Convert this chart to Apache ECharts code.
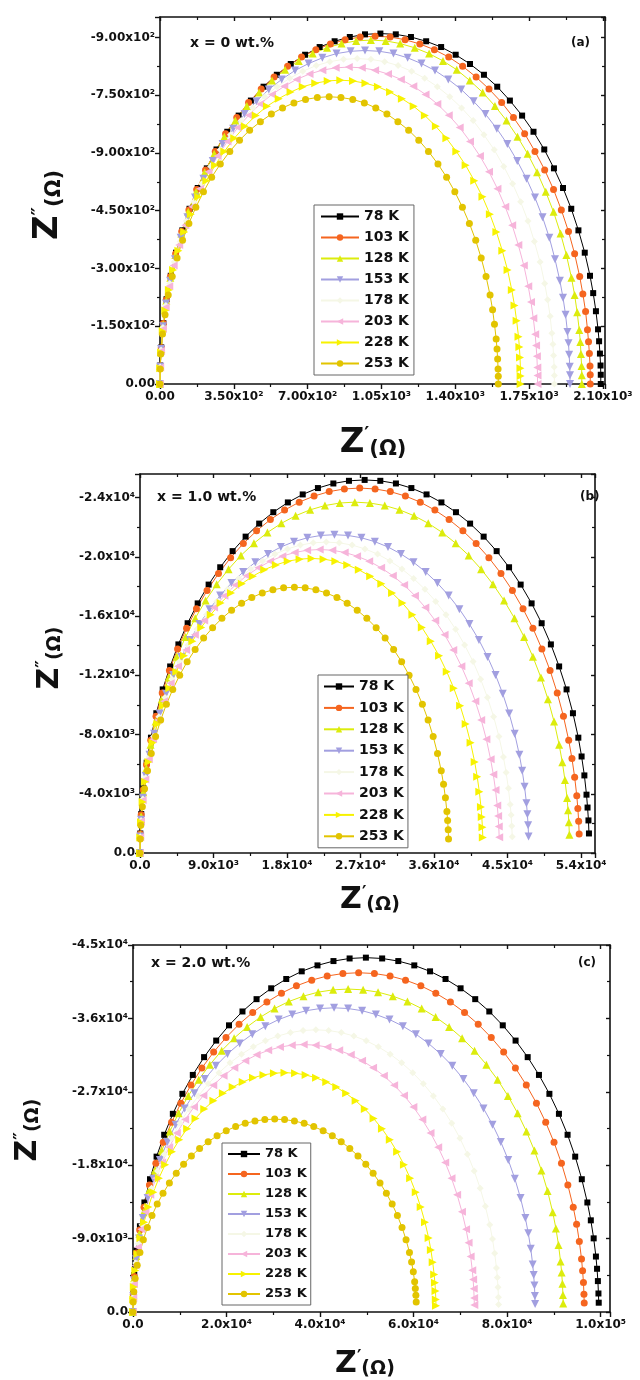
<!DOCTYPE html>
<html><head><meta charset="utf-8">
<script src="https://cdn.jsdelivr.net/npm/echarts@6/dist/echarts.min.js"></script>
<style>html,body{margin:0;padding:0;background:#fff}#c{width:640px;height:1380px}</style>
</head><body><div id="c"></div>
<script>
// Legend entries (temperature)
const temps = ['78 K','103 K','128 K','153 K','178 K','203 K','228 K','253 K'];

// Tick labels
const aXLabels = ['0.00','3.50x10²','7.00x10²','1.05x10³','1.40x10³','1.75x10³','2.10x10³'];
const aYLabels = ['0.00','-1.50x10²','-3.00x10²','-4.50x10²','-9.00x10²','-7.50x10²','-9.00x10²'];
const bXLabels = ['0.0','9.0x10³','1.8x10⁴','2.7x10⁴','3.6x10⁴','4.5x10⁴','5.4x10⁴'];
const bYLabels = ['0.0','-4.0x10³','-8.0x10³','-1.2x10⁴','-1.6x10⁴','-2.0x10⁴','-2.4x10⁴'];
const cXLabels = ['0.0','2.0x10⁴','4.0x10⁴','6.0x10⁴','8.0x10⁴','1.0x10⁵'];
const cYLabels = ['0.0','-9.0x10³','-1.8x10⁴','-2.7x10⁴','-3.6x10⁴','-4.5x10⁴'];

// Panel (a): x = 0 wt.%   points [Z' (ohm), -Z'' (ohm)]
const a78 = [[0,0],[1,48],[6,95],[16,158],[31,220],[51,281],[76,341],[106,399],[140,455],[179,509],[222,560],[268,609],[319,655],[373,697],[431,736],[491,772],[554,803],[620,831],[688,855],[757,875],[828,890],[900,901],[972,908],[1045,910],[1118,908],[1190,901],[1262,890],[1333,875],[1402,855],[1470,831],[1536,803],[1599,772],[1659,736],[1717,697],[1771,655],[1822,609],[1868,560],[1911,509],[1950,455],[1984,399],[2014,341],[2039,281],[2054,236],[2067,189],[2077,142],[2082,111],[2086,79],[2089,48],[2090,24],[2090,0]];
const a103 = [[0,0],[1,47],[6,94],[16,157],[30,218],[50,279],[74,338],[103,396],[137,452],[174,505],[216,556],[262,604],[311,650],[364,692],[420,731],[480,766],[541,797],[605,825],[671,849],[739,868],[808,883],[878,894],[949,901],[1020,903],[1091,901],[1162,894],[1232,883],[1301,868],[1369,849],[1435,825],[1499,797],[1560,766],[1620,731],[1676,692],[1729,650],[1778,604],[1824,556],[1866,505],[1903,452],[1937,396],[1966,338],[1990,279],[2005,234],[2018,188],[2027,141],[2032,110],[2036,79],[2039,47],[2040,24],[2040,0]];
const a128 = [[0,0],[1,47],[6,93],[15,155],[30,216],[49,276],[73,335],[101,391],[134,447],[171,499],[212,550],[257,598],[305,642],[357,684],[412,722],[470,757],[531,788],[593,816],[658,839],[724,858],[792,873],[861,884],[930,891],[1000,893],[1070,891],[1139,884],[1208,873],[1276,858],[1342,839],[1407,816],[1469,788],[1530,757],[1588,722],[1643,684],[1695,642],[1743,598],[1788,550],[1829,499],[1866,447],[1899,391],[1927,335],[1951,276],[1966,231],[1978,186],[1988,140],[1993,109],[1996,78],[1999,47],[2000,23],[2000,0]];
const a153 = [[0,0],[1,45],[5,91],[15,150],[29,209],[48,268],[71,324],[98,380],[130,433],[166,484],[206,533],[250,579],[297,623],[347,663],[401,701],[457,734],[516,765],[577,791],[640,814],[704,832],[770,847],[837,858],[904,864],[972,866],[1040,864],[1107,858],[1174,847],[1240,832],[1304,814],[1367,791],[1428,765],[1487,734],[1543,701],[1597,663],[1647,623],[1694,579],[1738,533],[1778,484],[1814,433],[1846,380],[1873,324],[1896,268],[1911,224],[1923,180],[1932,135],[1937,106],[1940,76],[1943,45],[1944,23],[1944,0]];
const a178 = [[0,0],[1,44],[5,88],[14,147],[28,204],[46,261],[68,317],[95,370],[125,423],[160,473],[198,520],[240,565],[285,608],[334,647],[385,684],[440,717],[496,746],[555,772],[615,794],[677,812],[741,827],[805,837],[870,843],[935,845],[1000,843],[1065,837],[1129,827],[1193,812],[1255,794],[1315,772],[1374,746],[1430,717],[1485,684],[1536,647],[1585,608],[1630,565],[1672,520],[1710,473],[1745,423],[1775,370],[1802,317],[1824,261],[1838,219],[1850,176],[1858,132],[1863,103],[1866,74],[1869,44],[1870,22],[1870,0]];
const a203 = [[0,0],[1,43],[5,86],[14,143],[27,199],[44,254],[65,308],[91,361],[120,412],[153,460],[190,507],[230,551],[273,592],[320,630],[369,666],[421,698],[475,727],[531,752],[589,773],[648,791],[709,805],[770,815],[833,821],[895,823],[957,821],[1020,815],[1081,805],[1142,791],[1201,773],[1259,752],[1315,727],[1369,698],[1421,666],[1470,630],[1517,592],[1560,551],[1600,507],[1637,460],[1670,412],[1699,361],[1725,308],[1746,254],[1759,213],[1770,171],[1779,129],[1783,100],[1787,72],[1789,43],[1790,22],[1790,0]];
const a228 = [[0,0],[1,41],[5,82],[13,137],[25,191],[42,244],[62,296],[87,346],[115,395],[146,441],[181,486],[220,528],[261,568],[305,604],[352,638],[402,669],[454,697],[507,721],[563,741],[619,758],[677,772],[736,781],[795,787],[855,789],[915,787],[974,781],[1033,772],[1091,758],[1147,741],[1203,721],[1256,697],[1308,669],[1358,638],[1405,604],[1449,568],[1490,528],[1529,486],[1564,441],[1595,395],[1623,346],[1648,296],[1668,244],[1681,204],[1691,164],[1700,123],[1704,96],[1707,69],[1709,41],[1710,21],[1710,0]];
const a253 = [[0,0],[1,39],[4,78],[12,130],[24,180],[39,231],[58,279],[81,327],[107,373],[137,417],[170,459],[206,499],[245,537],[286,571],[331,604],[377,633],[425,659],[476,681],[528,701],[581,717],[635,730],[690,739],[746,744],[802,746],[858,744],[914,739],[969,730],[1023,717],[1076,701],[1128,681],[1179,659],[1227,633],[1273,604],[1318,571],[1359,537],[1398,499],[1434,459],[1467,417],[1497,373],[1523,327],[1546,279],[1565,231],[1577,193],[1586,155],[1594,117],[1598,91],[1601,65],[1603,39],[1604,20],[1604,0]];

// Panel (b): x = 1.0 wt.%
const b78 = [[0,0],[40,1320],[150,2630],[420,4370],[820,6100],[1340,7790],[2000,9440],[2780,11050],[3690,12600],[4700,14090],[5830,15520],[7060,16860],[8400,18130],[9820,19300],[11340,20390],[12930,21370],[14590,22250],[16320,23020],[18100,23680],[19920,24220],[21780,24650],[23670,24960],[25580,25140],[27500,25200],[29420,25140],[31330,24960],[33220,24650],[35080,24220],[36900,23680],[38680,23020],[40410,22250],[42070,21370],[43660,20390],[45180,19300],[46600,18130],[47940,16860],[49170,15520],[50300,14090],[51310,12600],[52220,11050],[53000,9440],[53660,7790],[54060,6520],[54400,5240],[54660,3940],[54790,3070],[54900,2200],[54960,1320]];
const b103 = [[0,0],[40,1290],[150,2580],[410,4280],[800,5960],[1320,7620],[1960,9230],[2720,10810],[3600,12330],[4600,13780],[5700,15180],[6910,16490],[8210,17730],[9610,18880],[11090,19940],[12650,20900],[14270,21760],[15960,22520],[17700,23160],[19490,23700],[21310,24110],[23160,24410],[25020,24590],[26900,24650],[28780,24590],[30640,24410],[32490,24110],[34310,23700],[36100,23160],[37840,22520],[39530,21760],[41150,20900],[42710,19940],[44190,18880],[45590,17730],[46890,16490],[48100,15180],[49200,13780],[50200,12330],[51080,10810],[51840,9230],[52480,7620],[52880,6380],[53210,5120],[53470,3860],[53600,3000],[53700,2150],[53760,1290]];
const b128 = [[0,0],[40,1240],[140,2480],[400,4110],[780,5730],[1290,7320],[1910,8880],[2660,10390],[3520,11850],[4500,13250],[5580,14590],[6760,15860],[8030,17050],[9390,18150],[10840,19170],[12360,20100],[13950,20920],[15600,21650],[17310,22270],[19050,22780],[20830,23180],[22640,23470],[24460,23640],[26300,23700],[28140,23640],[29960,23470],[31770,23180],[33550,22780],[35290,22270],[37000,21650],[38650,20920],[40240,20100],[41760,19170],[43210,18150],[44570,17050],[45840,15860],[47020,14590],[48100,13250],[49080,11850],[49940,10390],[50690,8880],[51310,7320],[51700,6130],[52020,4930],[52280,3710],[52400,2890],[52500,2070],[52560,1240]];
const b153 = [[0,0],[30,1120],[130,2250],[360,3730],[710,5200],[1160,6640],[1730,8050],[2410,9430],[3190,10750],[4070,12020],[5050,13240],[6110,14390],[7270,15460],[8500,16470],[9810,17390],[11190,18230],[12630,18980],[14120,19640],[15660,20200],[17240,20670],[18850,21030],[20490,21290],[22140,21450],[23800,21500],[25460,21450],[27110,21290],[28750,21030],[30360,20670],[31940,20200],[33480,19640],[34970,18980],[36410,18230],[37790,17390],[39100,16470],[40330,15460],[41490,14390],[42550,13240],[43530,12020],[44410,10750],[45190,9430],[45870,8050],[46440,6640],[46790,5560],[47080,4470],[47310,3360],[47420,2620],[47510,1870],[47570,1120]];
const b178 = [[0,0],[30,1100],[130,2190],[350,3650],[680,5080],[1110,6490],[1660,7870],[2310,9210],[3060,10500],[3900,11740],[4830,12930],[5860,14050],[6960,15110],[8140,16090],[9400,16990],[10720,17810],[12100,18540],[13530,19180],[15000,19730],[16520,20190],[18060,20540],[19630,20800],[21210,20950],[22800,21000],[24390,20950],[25970,20800],[27540,20540],[29080,20190],[30600,19730],[32070,19180],[33500,18540],[34880,17810],[36200,16990],[37460,16090],[38640,15110],[39740,14050],[40770,12930],[41700,11740],[42540,10500],[43290,9210],[43940,7870],[44490,6490],[44820,5430],[45100,4370],[45320,3280],[45430,2560],[45510,1830],[45570,1100]];
const b203 = [[0,0],[30,1070],[120,2140],[330,3560],[650,4960],[1080,6330],[1600,7680],[2230,8990],[2950,10250],[3760,11460],[4660,12620],[5650,13720],[6720,14750],[7860,15700],[9070,16580],[10340,17380],[11670,18100],[13050,18730],[14480,19260],[15940,19710],[17430,20050],[18940,20300],[20460,20450],[22000,20500],[23540,20450],[25060,20300],[26570,20050],[28060,19710],[29520,19260],[30950,18730],[32330,18100],[33660,17380],[34930,16580],[36140,15700],[37280,14750],[38350,13720],[39340,12620],[40240,11460],[41050,10250],[41770,8990],[42400,7680],[42920,6330],[43250,5310],[43520,4260],[43730,3210],[43840,2500],[43920,1790],[43970,1070]];
const b228 = [[0,0],[30,1040],[120,2080],[320,3450],[620,4810],[1030,6150],[1530,7450],[2130,8720],[2810,9950],[3590,11130],[4450,12250],[5390,13320],[6410,14310],[7500,15240],[8660,16100],[9870,16880],[11140,17570],[12460,18180],[13820,18700],[15210,19130],[16630,19460],[18080,19710],[19530,19850],[21000,19900],[22470,19850],[23920,19710],[25370,19460],[26790,19130],[28180,18700],[29540,18180],[30860,17570],[32130,16880],[33340,16100],[34500,15240],[35590,14310],[36610,13320],[37550,12250],[38410,11130],[39190,9950],[39870,8720],[40470,7450],[40970,6150],[41280,5150],[41540,4140],[41740,3110],[41840,2430],[41920,1740],[41970,1040]];
const b253 = [[0,0],[30,940],[100,1880],[290,3120],[560,4340],[920,5550],[1380,6720],[1910,7870],[2530,8980],[3230,10040],[4010,11050],[4860,12010],[5770,12910],[6750,13750],[7790,14520],[8890,15220],[10030,15850],[11210,16400],[12440,16870],[13690,17260],[14970,17560],[16270,17780],[17580,17910],[18900,17950],[20220,17910],[21530,17780],[22830,17560],[24110,17260],[25360,16870],[26590,16400],[27770,15850],[28910,15220],[30010,14520],[31050,13750],[32030,12910],[32940,12010],[33790,11050],[34570,10040],[35270,8980],[35890,7870],[36420,6720],[36880,5550],[37160,4650],[37390,3730],[37570,2810],[37660,2190],[37730,1570],[37770,940]];

// Panel (c): x = 2.0 wt.%
const c78 = [[0,0],[70,2270],[270,4540],[760,7540],[1480,10510],[2440,13430],[3630,16280],[5040,19050],[6670,21730],[8520,24300],[10560,26750],[12790,29070],[15200,31250],[17790,33280],[20530,35150],[23410,36850],[26420,38360],[29550,39690],[32770,40830],[36080,41770],[39450,42500],[42870,43030],[46320,43350],[49800,43450],[53280,43350],[56730,43030],[60150,42500],[63520,41770],[66830,40830],[70050,39690],[73180,38360],[76190,36850],[79070,35150],[81810,33280],[84400,31250],[86810,29070],[89040,26750],[91080,24300],[92930,21730],[94560,19050],[95970,16280],[97160,13430],[97900,11240],[98510,9030],[98990,6800],[99230,5300],[99410,3790],[99530,2270],[99590,1140]];
const c103 = [[0,0],[70,2180],[270,4350],[730,7220],[1430,10060],[2360,12850],[3510,15580],[4880,18240],[6470,20800],[8250,23260],[10230,25610],[12400,27830],[14730,29920],[17240,31870],[19890,33650],[22680,35280],[25600,36730],[28630,38000],[31750,39090],[34950,39990],[38220,40690],[41530,41200],[44880,41500],[48250,41600],[51620,41500],[54970,41200],[58280,40690],[61550,39990],[64750,39090],[67870,38000],[70900,36730],[73820,35280],[76610,33650],[79260,31870],[81770,29920],[84100,27830],[86270,25610],[88250,23260],[90030,20800],[91620,18240],[92990,15580],[94140,12850],[94860,10770],[95440,8650],[95910,6510],[96140,5070],[96320,3630],[96430,2180],[96490,1090]];
const c128 = [[0,0],[60,2070],[250,4140],[700,6870],[1370,9580],[2250,12240],[3350,14830],[4660,17360],[6160,19800],[7870,22140],[9750,24380],[11820,26500],[14040,28480],[16430,30330],[18960,32040],[21620,33580],[24400,34960],[27290,36170],[30270,37210],[33320,38070],[36440,38730],[39600,39220],[42790,39500],[46000,39600],[49210,39500],[52400,39220],[55560,38730],[58680,38070],[61730,37210],[64710,36170],[67600,34960],[70380,33580],[73040,32040],[75570,30330],[77960,28480],[80180,26500],[82250,24380],[84130,22140],[85840,19800],[87340,17360],[88650,14830],[89750,12240],[90430,10250],[90990,8230],[91430,6190],[91660,4830],[91830,3450],[91940,2070],[91990,1040]];
const c153 = [[0,0],[60,1950],[240,3900],[650,6480],[1280,9020],[2100,11530],[3130,13970],[4350,16350],[5760,18650],[7350,20860],[9120,22970],[11050,24960],[13130,26830],[15360,28570],[17720,30180],[20210,31630],[22810,32930],[25510,34070],[28290,35050],[31150,35860],[34060,36480],[37010,36940],[40000,37210],[43000,37300],[46000,37210],[48990,36940],[51940,36480],[54850,35860],[57710,35050],[60490,34070],[63190,32930],[65790,31630],[68280,30180],[70640,28570],[72870,26830],[74950,24960],[76880,22970],[78650,20860],[80240,18650],[81650,16350],[82870,13970],[83900,11530],[84530,9650],[85060,7750],[85470,5830],[85680,4550],[85840,3250],[85940,1950],[85990,980]];
const c178 = [[0,0],[50,1810],[220,3620],[590,6010],[1160,8370],[1910,10690],[2850,12960],[3960,15170],[5240,17300],[6690,19350],[8290,21300],[10040,23150],[11940,24890],[13970,26500],[16120,27990],[18380,29340],[20740,30550],[23200,31610],[25730,32510],[28320,33260],[30970,33840],[33660,34260],[36370,34520],[39100,34600],[41830,34520],[44540,34260],[47230,33840],[49880,33260],[52470,32510],[55000,31610],[57460,30550],[59820,29340],[62080,27990],[64230,26500],[66260,24890],[68160,23150],[69910,21300],[71510,19350],[72960,17300],[74240,15170],[75350,12960],[76290,10690],[76870,8950],[77340,7190],[77720,5410],[77910,4220],[78050,3020],[78150,1810],[78190,910]];
const c203 = [[0,0],[50,1720],[200,3430],[550,5690],[1080,7930],[1780,10140],[2660,12290],[3690,14380],[4890,16400],[6240,18340],[7740,20200],[9380,21950],[11140,23590],[13040,25130],[15050,26540],[17160,27810],[19360,28960],[21660,29960],[24020,30820],[26440,31530],[28910,32080],[31420,32480],[33950,32720],[36500,32800],[39050,32720],[41580,32480],[44090,32080],[46560,31530],[48980,30820],[51340,29960],[53640,28960],[55840,27810],[57950,26540],[59960,25130],[61860,23590],[63620,21950],[65260,20200],[66760,18340],[68110,16400],[69310,14380],[70340,12290],[71220,10140],[71760,8490],[72200,6820],[72550,5130],[72730,4000],[72860,2860],[72950,1720],[72990,860]];
const c228 = [[0,0],[50,1540],[180,3070],[490,5100],[960,7100],[1580,9070],[2360,11000],[3280,12870],[4340,14680],[5540,16410],[6870,18070],[8320,19640],[9890,21110],[11570,22480],[13360,23740],[15230,24890],[17190,25910],[19220,26810],[21320,27580],[23470,28210],[25660,28710],[27890,29070],[30140,29280],[32400,29350],[34660,29280],[36910,29070],[39140,28710],[41330,28210],[43480,27580],[45580,26810],[47610,25910],[49570,24890],[51440,23740],[53230,22480],[54910,21110],[56480,19640],[57930,18070],[59260,16410],[60460,14680],[61520,12870],[62440,11000],[63220,9070],[63700,7600],[64090,6100],[64400,4590],[64560,3580],[64680,2560],[64750,1540],[64790,770]];
const c253 = [[0,0],[40,1240],[170,2470],[460,4110],[900,5720],[1480,7310],[2210,8860],[3070,10370],[4060,11830],[5180,13230],[6420,14560],[7780,15820],[9250,17010],[10820,18120],[12490,19130],[14240,20060],[16070,20880],[17980,21600],[19940,22220],[21950,22740],[24000,23130],[26080,23420],[28190,23590],[30300,23650],[32410,23590],[34520,23420],[36600,23130],[38650,22740],[40660,22220],[42620,21600],[44530,20880],[46360,20060],[48110,19130],[49780,18120],[51350,17010],[52820,15820],[54180,14560],[55420,13230],[56540,11830],[57530,10370],[58390,8860],[59120,7310],[59570,6120],[59940,4920],[60230,3700],[60370,2880],[60490,2060],[60560,1240]];

const panelA = [a78,a103,a128,a153,a178,a203,a228,a253];
const panelB = [b78,b103,b128,b153,b178,b203,b228,b253];
const panelC = [c78,c103,c128,c153,c178,c203,c228,c253];

const colors = ['#000000','#f5651f','#dcec0c','#a29fe0','#f5f7e6','#f6b4da','#f7f200','#e2c400'];
const symbols = ['rect','circle','triangle','triangle','diamond','triangle','triangle','circle'];
const rotates = [0,0,0,180,0,90,-90,0];
const sizes = [6,7,8,8,7,8,8,7];

const FONT = 'DejaVu Sans';
const INK = '#111';

function fmt(labels, step){
  return function(v){
    const i = Math.round(v/step);
    return (Math.abs(v - i*step) < 1e-6 && labels[i] !== undefined) ? labels[i] : '';
  };
}
function axes(dim, gi, min, max, step, labels, fontSize){
  const common = {
    type:'value', gridIndex: gi, min: min, max: max, interval: step, scale: false,
    splitLine:{show:false},
    axisLine:{show:true, onZero:false, lineStyle:{color:INK, width:1.6}},
    minorTick:{show:true, splitNumber:2, length:3, lineStyle:{color:INK, width:1.2}}
  };
  const main = Object.assign({}, common, {
    position: dim==='x' ? 'bottom' : 'left',
    axisTick:{show:true, inside:false, length:5, lineStyle:{color:INK, width:1.4}},
    axisLabel:{show:true, formatter: fmt(labels, step), fontFamily:FONT, fontWeight:'bold',
      fontSize: fontSize, color:INK, margin: dim==='x' ? 7 : 5}
  });
  const mirror = Object.assign({}, common, {
    position: dim==='x' ? 'top' : 'right',
    axisTick:{show:true, inside:true, length:4, lineStyle:{color:INK, width:1.4}},
    axisLabel:{show:false}
  });
  return [main, mirror];
}

function makeSeries(panel, xi, yi){
  return panel.map(function(d, k){
    return {
      name: temps[k], type:'line', xAxisIndex: xi, yAxisIndex: yi, data: d,
      symbol: symbols[k], symbolSize: sizes[k], symbolRotate: rotates[k],
      showSymbol: true, showAllSymbol: true, smooth: false,
      lineStyle:{color: colors[k], width: 1}, itemStyle:{color: colors[k]},
      emphasis:{disabled:true}, animation:false, silent:true
    };
  });
}

function legend(left, top, fontSize, lineH, gap, iw, pad){
  return {
    data: temps, orient:'vertical', left: left, top: top,
    itemWidth: iw, itemHeight: 8, itemGap: gap, padding: pad,
    borderColor:'#666', borderWidth:1, backgroundColor:'#fff', selectedMode:false,
    textStyle:{fontFamily:FONT, fontWeight:'bold', fontSize: fontSize, color:INK, lineHeight: lineH}
  };
}

function yTitle(x, y, big){
  return {type:'text', x: x, y: y, rotation: Math.PI/2, silent:true,
    style:{text:'{z|Z}{p|″}{o|(Ω)}', align:'center', verticalAlign:'middle', fill:INK,
      rich:{z:{fontSize:big, fontWeight:'bold', fontFamily:FONT, fill:INK, verticalAlign:'bottom'},
            p:{fontSize:Math.round(big*0.55), fontWeight:'bold', fontFamily:FONT, fill:INK, verticalAlign:'top'},
            o:{fontSize:Math.round(big*0.62), fontWeight:'bold', fontFamily:FONT, fill:INK, verticalAlign:'bottom'}}}};
}
function xTitle(x, y, big){
  return {type:'text', x: x, y: y, silent:true,
    style:{text:'{z|Z}{p|′}{o|(Ω)}', align:'center', verticalAlign:'middle', fill:INK,
      rich:{z:{fontSize:big, fontWeight:'bold', fontFamily:FONT, fill:INK, verticalAlign:'bottom'},
            p:{fontSize:Math.round(big*0.55), fontWeight:'bold', fontFamily:FONT, fill:INK, verticalAlign:'top'},
            o:{fontSize:Math.round(big*0.62), fontWeight:'bold', fontFamily:FONT, fill:INK, verticalAlign:'bottom'}}}};
}
function label(text, x, y, size){
  return {type:'text', x: x, y: y, silent:true,
    style:{text:text, fontFamily:FONT, fontWeight:'bold', fontSize:size, fill:INK, align:'left', verticalAlign:'middle'}};
}

const xA = axes('x',0,0,2110,350,aXLabels,12);
const yA = axes('y',0,0,953,150,aYLabels,12);
const xB = axes('x',1,0,55700,9000,bXLabels,12);
const yB = axes('y',1,0,25600,4000,bYLabels,12);
const xC = axes('x',2,0,102000,20000,cXLabels,12);
const yC = axes('y',2,0,45000,9000,cYLabels,12);

const option = {
  backgroundColor:'#fff',
  animation:false,
  grid:[
    {left:160, top:17, width:445, height:367},
    {left:140, top:474, width:455, height:379},
    {left:133, top:945, width:477, height:367}
  ],
  xAxis:[xA[0], xA[1], xB[0], xB[1], xC[0], xC[1]],
  yAxis:[yA[0], yA[1], yB[0], yB[1], yC[0], yC[1]],
  legend:[
    legend(314, 205, 14, 15, 6, 38, [4,5,4,6]),
    legend(318, 675, 14, 15, 6.4, 30, [4,4,4,5]),
    legend(222, 1143, 13, 14, 6, 32, [4,4,4,5])
  ],
  series: [].concat(makeSeries(panelA,0,0), makeSeries(panelB,2,2), makeSeries(panelC,4,4)),
  graphic:[
    label('x = 0 wt.%', 190, 43, 14), label('(a)', 571, 43, 12),
    label('x = 1.0 wt.%', 157, 497, 14), label('(b)', 580, 497, 12),
    label('x = 2.0 wt.%', 151, 963, 14), label('(c)', 578, 963, 12),
    yTitle(48, 205, 34), yTitle(50, 658, 30), yTitle(28, 1130, 30),
    xTitle(373, 443, 34), xTitle(370, 900, 30), xTitle(365, 1364, 30)
  ]
};
const chart = echarts.init(document.getElementById('c'), null, {renderer:'canvas', width:640, height:1380});
chart.setOption(option);
</script>
</body></html>
